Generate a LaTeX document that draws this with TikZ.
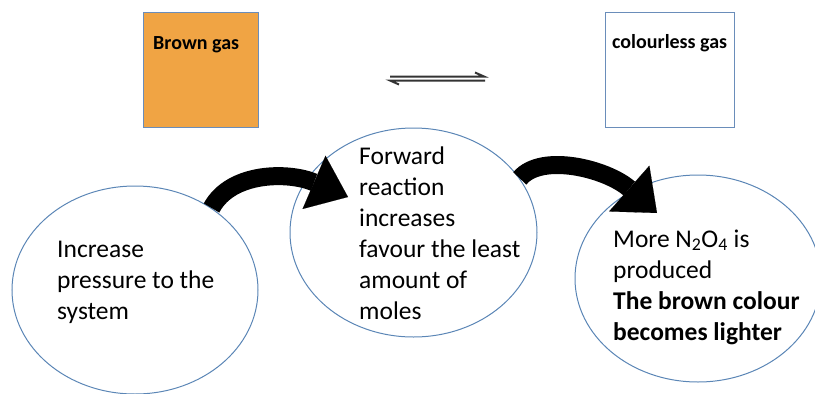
\documentclass[tikz,border=0pt]{standalone}
\usepackage{fontspec}
\setmainfont{Carlito}
\usetikzlibrary{shapes.geometric,arrows.meta,calc}
\definecolor{boxorange}{HTML}{F0A444}
\definecolor{boxline}{HTML}{6A8DBA}
\definecolor{ellline}{HTML}{5B86B6}
\begin{document}
\begin{tikzpicture}[x=1pt,y=-1pt,
 gasbox/.style={draw=boxline, line width=1.2pt, minimum height=115pt, inner sep=0pt, anchor=north west},
 boxlabel/.style={anchor=base west, inner sep=0pt, font=\fontsize{20}{24}\selectfont\bfseries},
 bubble/.style={ellipse, draw=ellline, line width=1pt, inner sep=0pt},
 bubbletext/.style={anchor=base west, inner sep=0pt, font=\fontsize{25.5}{31}\selectfont},
 bigarrow/.style={line width=18pt, -{Triangle[length=37pt,width=#1,line width=0.1pt]}},
 eqline/.style={line width=2pt, draw=black!80}]
\useasboundingbox (0,0) rectangle (815,394);

% boxes
\node[gasbox, fill=boxorange, minimum width=115pt] (brown) at (143,12) {};
\node[gasbox, fill=white, minimum width=129pt] (clear) at (605,12) {};
\node[boxlabel] (brownlbl) at (153,49) {Brown gas};
\node[boxlabel] (clearlbl) at (612,48) {colourless gas};

% equilibrium sign
\draw[eqline] (390,76.5) -- (484,76.5) -- (475,72.5);
\draw[eqline] (485,80.5) -- (390,80.5) -- (399,84.5);

% bubbles
\node[bubble, minimum width=246pt, minimum height=208pt] (e1) at (135,290) {};
\node[bubble, minimum width=247pt, minimum height=209pt] (e2) at (413.5,232.5) {};
\node[bubble, minimum width=246pt, minimum height=207pt] (e3) at (698,278.5) {};

% arrows
\coordinate (a1s) at (e1.47);
\coordinate (a1e) at ($(e2.center)+(-65.5,-35.5)$);
\coordinate (a2s) at (e2.27);
\coordinate (a2e) at ($(e3.center)+(-41,-65.5)$);
\draw[bigarrow=58pt] (a1s) .. controls +(20,-37) and +(-58,-25) .. (a1e);
\draw[bigarrow=61pt] (a2s) .. controls +(22,-26) and +(-50,-44) .. (a2e);

% texts
\node[bubbletext] (t1) at (57,257) {\begin{tabular}[t]{@{}l@{}}Increase\\pressure to the\\system\end{tabular}};
\node[bubbletext] (t2) at (359,164) {\begin{tabular}[t]{@{}l@{}}Forward\\reaction\\increases\\favour the least\\amount of\\moles\end{tabular}};
\node[bubbletext] (t3) at (613,247) {\begin{tabular}[t]{@{}l@{}}More N\textsubscript{2}O\textsubscript{4} is\\produced\\\textbf{The brown colour}\\\textbf{becomes lighter}\end{tabular}};
\end{tikzpicture}
\end{document}
